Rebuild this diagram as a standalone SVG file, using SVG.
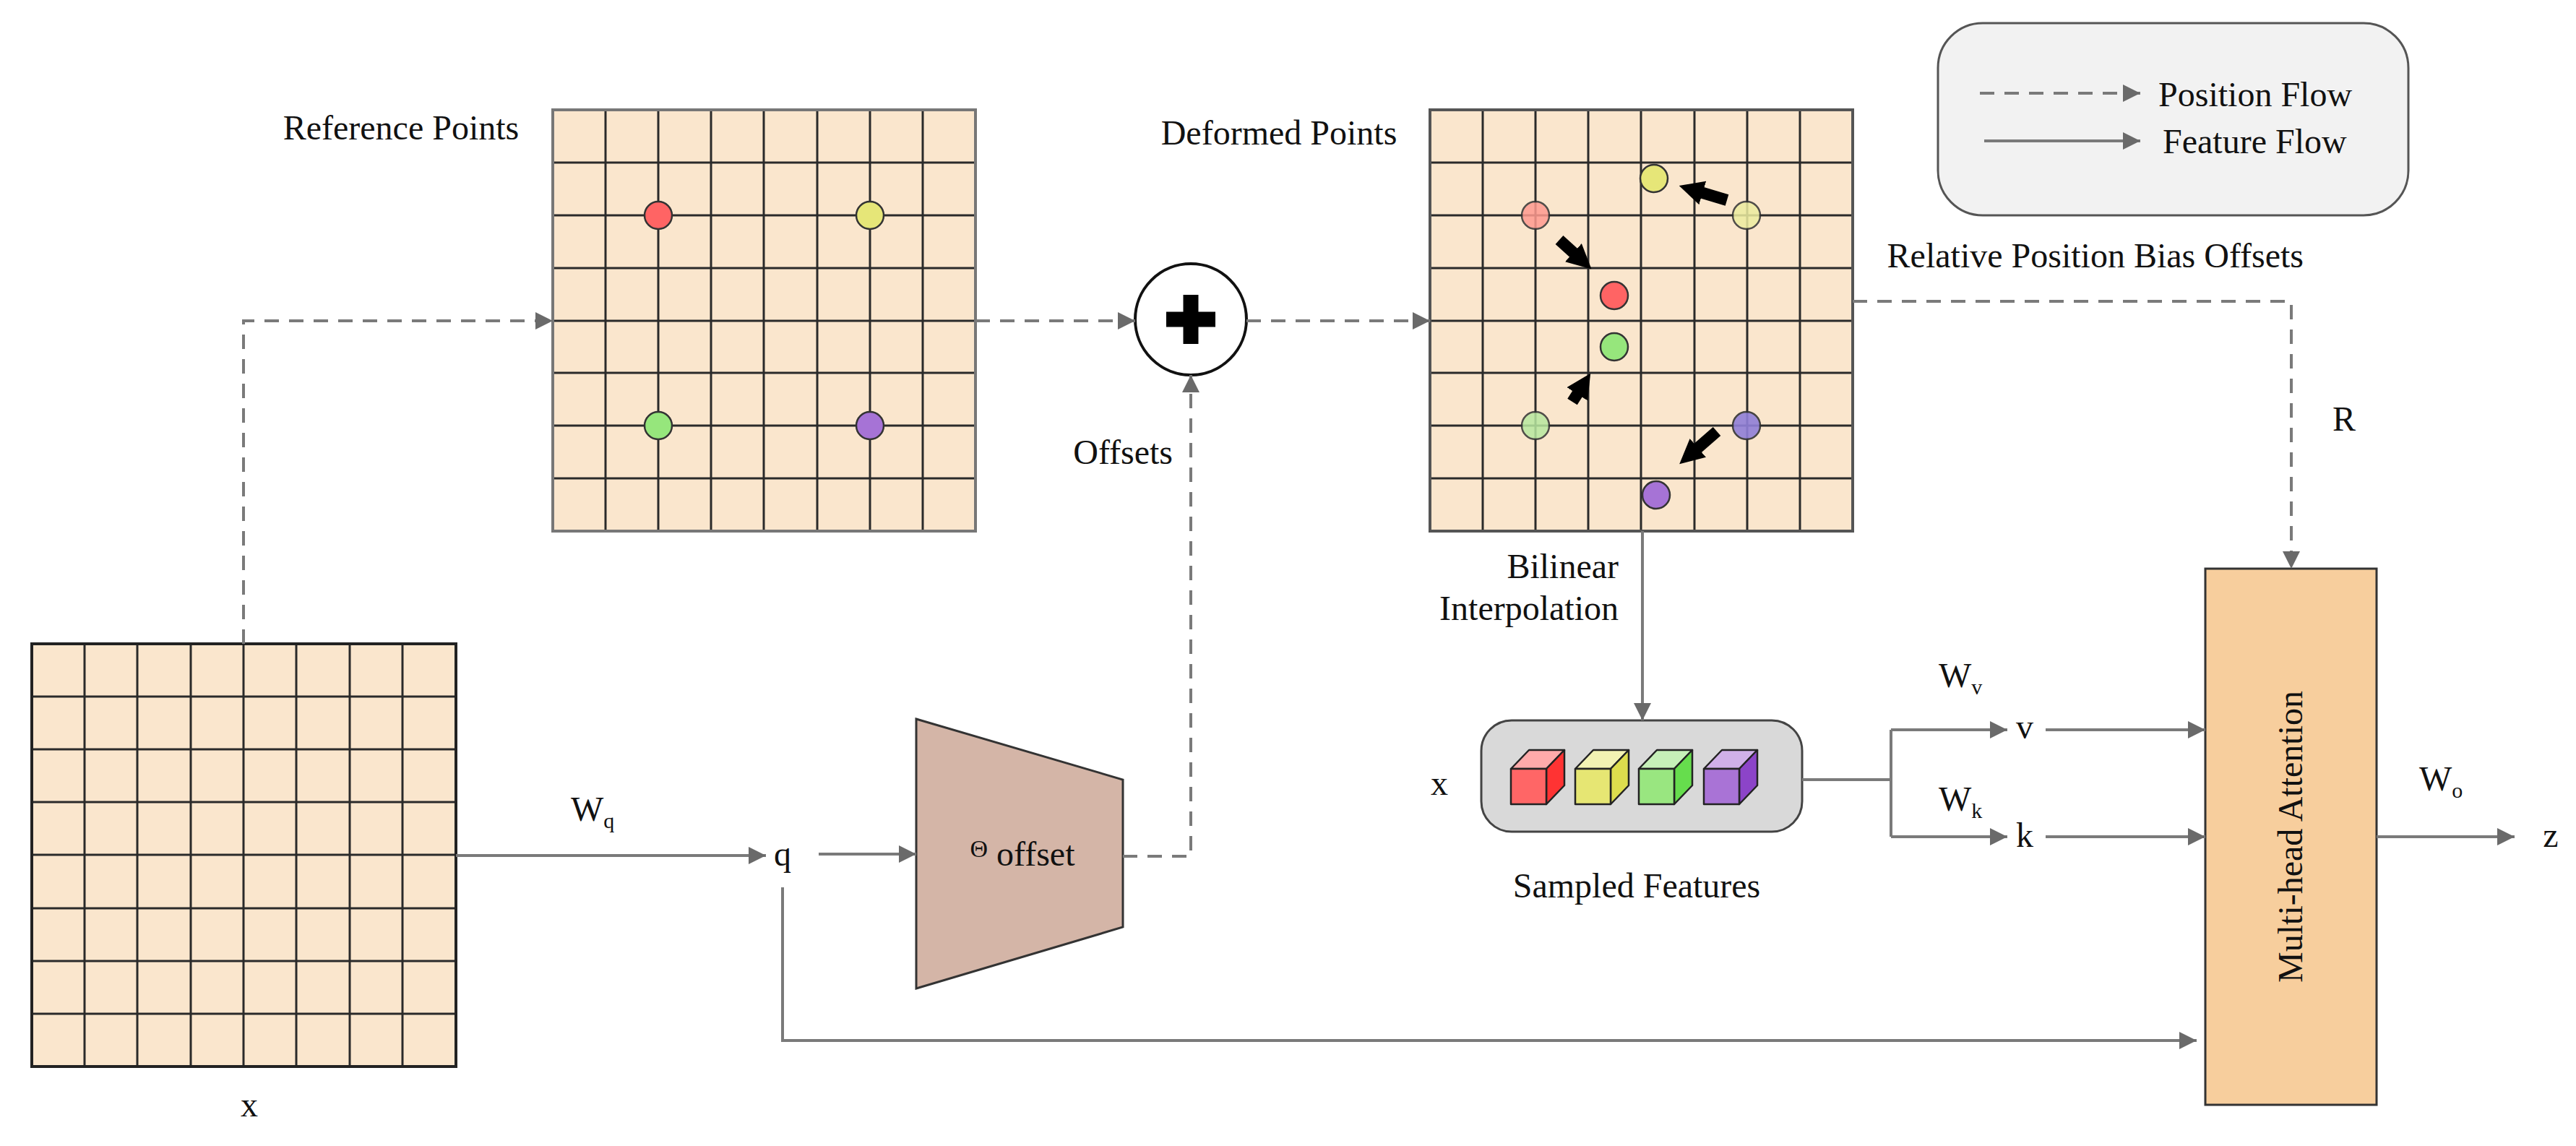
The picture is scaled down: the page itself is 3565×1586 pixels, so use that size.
<svg xmlns="http://www.w3.org/2000/svg" width="3565" height="1586" viewBox="0 0 3565 1586">
<style>
text{font-family:"Liberation Serif","Times New Roman","DejaVu Serif",serif;font-size:48px;fill:#111}
.gl{stroke:#2a2a2a;stroke-width:3}
.dash{fill:none;stroke:#7a7a7a;stroke-width:4;stroke-dasharray:20 14}
.sol{fill:none;stroke:#7a7a7a;stroke-width:4}
.pt{stroke:#333;stroke-width:2.5}
.blk{stroke:#000;stroke-width:16;fill:none}
</style>
<defs>
<marker id="ah" viewBox="0 0 10 10" refX="10" refY="5" markerWidth="24" markerHeight="24" markerUnits="userSpaceOnUse" orient="auto"><path d="M0,0L10,5L0,10z" fill="#6a6a6a"/></marker>
<marker id="bh" viewBox="0 0 10 10" refX="5" refY="5" markerWidth="34" markerHeight="34" markerUnits="userSpaceOnUse" orient="auto"><path d="M0,0L10,5L0,10z" fill="#000"/></marker>
</defs>

<g id="input-grid">
<rect x="44" y="891" width="587" height="585" fill="#fae6cd"/>
<g class="gl">
<path d="M117,891V1476M190,891V1476M264,891V1476M337,891V1476M410,891V1476M484,891V1476M557,891V1476"/>
<path d="M44,964H631M44,1037H631M44,1110H631M44,1183H631M44,1257H631M44,1330H631M44,1403H631"/>
</g>
<rect x="44" y="891" width="587" height="585" fill="none" stroke="#222" stroke-width="4"/>
<text x="345" y="1545" text-anchor="middle">x</text>
</g>

<g id="reference-points">
<rect x="765" y="152" width="585" height="583" fill="#fae6cd"/>
<g class="gl">
<path d="M838,152V735M911,152V735M984,152V735M1057,152V735M1131,152V735M1204,152V735M1277,152V735"/>
<path d="M765,225H1350M765,298H1350M765,371H1350M765,444H1350M765,516H1350M765,589H1350M765,662H1350"/>
</g>
<rect x="765" y="152" width="585" height="583" fill="none" stroke="#777" stroke-width="4"/>
<circle class="pt" cx="911" cy="298" r="19" fill="#ff6464"/>
<circle class="pt" cx="1204" cy="298" r="19" fill="#e6e678"/>
<circle class="pt" cx="911" cy="589" r="19" fill="#96e67c"/>
<circle class="pt" cx="1204" cy="589" r="19" fill="#a673d6"/>
<text x="555" y="193" text-anchor="middle">Reference Points</text>
</g>

<g id="add">
<circle cx="1648" cy="442" r="77" fill="#fff" stroke="#111" stroke-width="4"/>
<path d="M1648,408V476M1614,442H1682" stroke="#000" stroke-width="21"/>
<text x="1623" y="642" text-anchor="end">Offsets</text>
</g>

<g id="offset-net">
<polygon points="1268,995 1554,1079 1554,1283 1268,1368" fill="#d4b5a7" stroke="#333" stroke-width="3"/>
<text x="1415" y="1198" text-anchor="middle"><tspan font-size="34" dy="-12">Θ</tspan><tspan dy="12"> offset</tspan></text>
<text x="1083" y="1198" text-anchor="middle">q</text>
<text x="790" y="1136">W<tspan font-size="30" dy="10">q</tspan></text>
</g>

<g id="deformed-points">
<rect x="1979" y="152" width="585" height="583" fill="#fae6cd"/>
<g class="gl">
<path d="M2052,152V735M2125,152V735M2198,152V735M2271,152V735M2345,152V735M2418,152V735M2491,152V735"/>
<path d="M1979,225H2564M1979,298H2564M1979,371H2564M1979,444H2564M1979,516H2564M1979,589H2564M1979,662H2564"/>
</g>
<rect x="1979" y="152" width="585" height="583" fill="none" stroke="#555" stroke-width="4"/>
<circle class="pt" cx="2125" cy="298" r="19" fill="#ff9a90" opacity="0.85"/>
<circle class="pt" cx="2417" cy="298" r="19" fill="#ececa0" opacity="0.85"/>
<circle class="pt" cx="2125" cy="589" r="19" fill="#b8e8a0" opacity="0.85"/>
<circle class="pt" cx="2417" cy="589" r="19" fill="#9080d8" opacity="0.9"/>
<circle class="pt" cx="2289" cy="247" r="19" fill="#e6e678"/>
<circle class="pt" cx="2234" cy="409" r="19" fill="#ff6464"/>
<circle class="pt" cx="2234" cy="480" r="19" fill="#96e67c"/>
<circle class="pt" cx="2292" cy="685" r="19" fill="#a673d6"/>
<path class="blk" d="M2158,332L2190,361" marker-end="url(#bh)"/>
<path class="blk" d="M2390,277L2340,262" marker-end="url(#bh)"/>
<path class="blk" d="M2176,556L2192,531" marker-end="url(#bh)"/>
<path class="blk" d="M2376,597L2337,631" marker-end="url(#bh)"/>
<text x="1770" y="200" text-anchor="middle">Deformed Points</text>
<text x="3188" y="370" text-anchor="end">Relative Position Bias Offsets</text>
<text x="3228" y="596">R</text>
<text x="2240" y="800" text-anchor="end">Bilinear</text>
<text x="2240" y="858" text-anchor="end">Interpolation</text>
</g>

<g id="sampled-features">
<rect x="2050" y="997" width="444" height="154" rx="42" fill="#d9d9d9" stroke="#444" stroke-width="3"/>
<g stroke="#222" stroke-width="2.5" stroke-linejoin="round">
<path d="M2091,1064l25,-26h49l-25,26z" fill="#ffaaaa"/><path d="M2140,1064l25,-26v49l-25,26z" fill="#ff3333"/><rect x="2091" y="1064" width="49" height="49" fill="#ff6666"/>
<path d="M2180,1064l25,-26h49l-25,26z" fill="#f2f2b3"/><path d="M2229,1064l25,-26v49l-25,26z" fill="#dddd4d"/><rect x="2180" y="1064" width="49" height="49" fill="#e6e673"/>
<path d="M2268,1064l25,-26h49l-25,26z" fill="#c6f0b8"/><path d="M2317,1064l25,-26v49l-25,26z" fill="#66dd4d"/><rect x="2268" y="1064" width="49" height="49" fill="#99e680"/>
<path d="M2358,1064l25,-26h49l-25,26z" fill="#d0b0e8"/><path d="M2407,1064l25,-26v49l-25,26z" fill="#8c44c8"/><rect x="2358" y="1064" width="49" height="49" fill="#a973d6"/>
</g>
<text x="1992" y="1100" text-anchor="middle">x</text>
<text x="2265" y="1242" text-anchor="middle">Sampled Features</text>
</g>

<g id="attention">
<rect x="3052" y="787" width="237" height="742" fill="#f7ce9d" stroke="#333" stroke-width="3"/>
<text transform="translate(3186,1158) rotate(-90)" text-anchor="middle">Multi-head Attention</text>
<text x="2683" y="951">W<tspan font-size="30" dy="10">v</tspan></text>
<text x="2683" y="1122">W<tspan font-size="30" dy="10">k</tspan></text>
<text x="2802" y="1022" text-anchor="middle">v</text>
<text x="2802" y="1172" text-anchor="middle">k</text>
<text x="3348" y="1094">W<tspan font-size="30" dy="10">o</tspan></text>
<text x="3530" y="1172" text-anchor="middle">z</text>
</g>

<g id="legend">
<rect x="2682" y="32" width="651" height="266" rx="62" fill="#f2f2f2" stroke="#555" stroke-width="3"/>
<path class="dash" d="M2740,129H2962" marker-end="url(#ah)"/>
<path class="sol" d="M2746,195H2962" marker-end="url(#ah)"/>
<text x="2987" y="147">Position Flow</text>
<text x="2993" y="212">Feature Flow</text>
</g>

<g id="connectors">
<path class="dash" d="M337,891V444H765" marker-end="url(#ah)"/>
<path class="dash" d="M1350,444H1571" marker-end="url(#ah)"/>
<path class="dash" d="M1725,444H1979" marker-end="url(#ah)"/>
<path class="dash" d="M1554,1185H1648V519" marker-end="url(#ah)"/>
<path class="dash" d="M2564,417H3171V787" marker-end="url(#ah)"/>
<path class="sol" d="M631,1184H1060" marker-end="url(#ah)"/>
<path class="sol" d="M1133,1182H1268" marker-end="url(#ah)"/>
<path class="sol" d="M1083,1228V1440H3040" marker-end="url(#ah)"/>
<path class="sol" d="M2273,735V997" marker-end="url(#ah)"/>
<path class="sol" d="M2494,1079H2617"/>
<path class="sol" d="M2617,1010V1158"/>
<path class="sol" d="M2617,1010H2778" marker-end="url(#ah)"/>
<path class="sol" d="M2617,1158H2778" marker-end="url(#ah)"/>
<path class="sol" d="M2831,1010H3052" marker-end="url(#ah)"/>
<path class="sol" d="M2831,1158H3052" marker-end="url(#ah)"/>
<path class="sol" d="M3289,1158H3480" marker-end="url(#ah)"/>
</g>
</svg>
